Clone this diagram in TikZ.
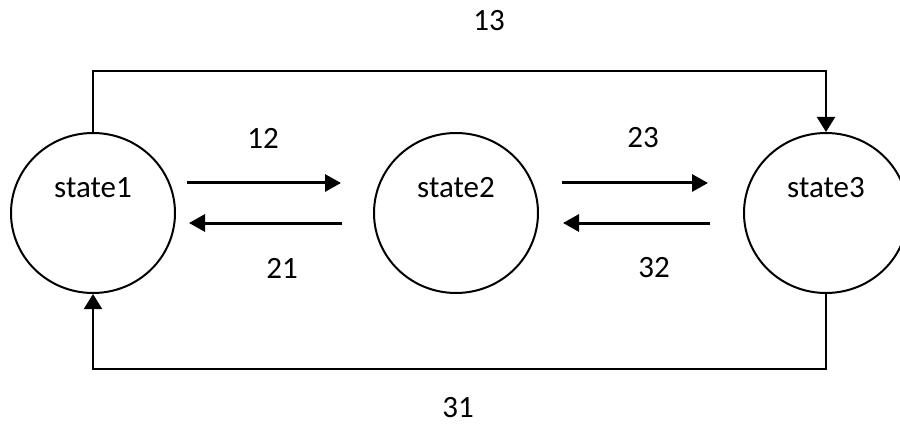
\documentclass[tikz,border=0pt]{standalone}
\usepackage{fontspec}
\setmainfont{Carlito}
\usetikzlibrary{arrows.meta,shapes.geometric}

\tikzset{
  statenode/.style={draw, line width=2pt, ellipse, minimum width=164pt, minimum height=160pt, inner sep=0pt},
  labeltext/.style={font=\fontsize{31}{36}\selectfont, inner sep=0pt},
  loopline/.style={line width=2pt, -{Triangle[length=15pt,width=18pt]}},
  flowline/.style={line width=3pt, -{Triangle[length=16pt,width=17pt]}}
}

\begin{document}
\begin{tikzpicture}[x=1pt, y=-1pt]
  \useasboundingbox (0,0) rectangle (900,425);

  % the three states
  \node[statenode, label={[labeltext, yshift=25pt]center:state1}] (s1) at (93,213) {};
  \node[statenode, label={[labeltext, yshift=25pt]center:state2}] (s2) at (456,213) {};
  \node[statenode, label={[labeltext, yshift=25pt]center:state3}] (s3) at (826,213) {};

  % ends of the straight transition arrows
  \coordinate (a12s) at (187,183);
  \coordinate (a12e) at (341,183);
  \coordinate (a21s) at (342,223);
  \coordinate (a21e) at (189,223);
  \coordinate (a23s) at (562,183);
  \coordinate (a23e) at (708,183);
  \coordinate (a32s) at (710,223);
  \coordinate (a32e) at (563,223);

  \draw[flowline] (a12s) -- (a12e);
  \draw[flowline] (a21s) -- (a21e);
  \draw[flowline] (a23s) -- (a23e);
  \draw[flowline] (a32s) -- (a32e);

  % long transitions around the states
  \draw[loopline] (s1.north) -- ++(0,-61) -| (s3.north);
  \draw[loopline] (s3.south) -- ++(0,75) -| (s1.south);

  % transition labels
  \node[labeltext] (l13) at (489,21) {13};
  \node[labeltext] (l12) at (263,138) {12};
  \node[labeltext] (l21) at (282,268) {21};
  \node[labeltext] (l23) at (643,138) {23};
  \node[labeltext] (l32) at (654,268) {32};
  \node[labeltext] (l31) at (458,408) {31};
\end{tikzpicture}
\end{document}
